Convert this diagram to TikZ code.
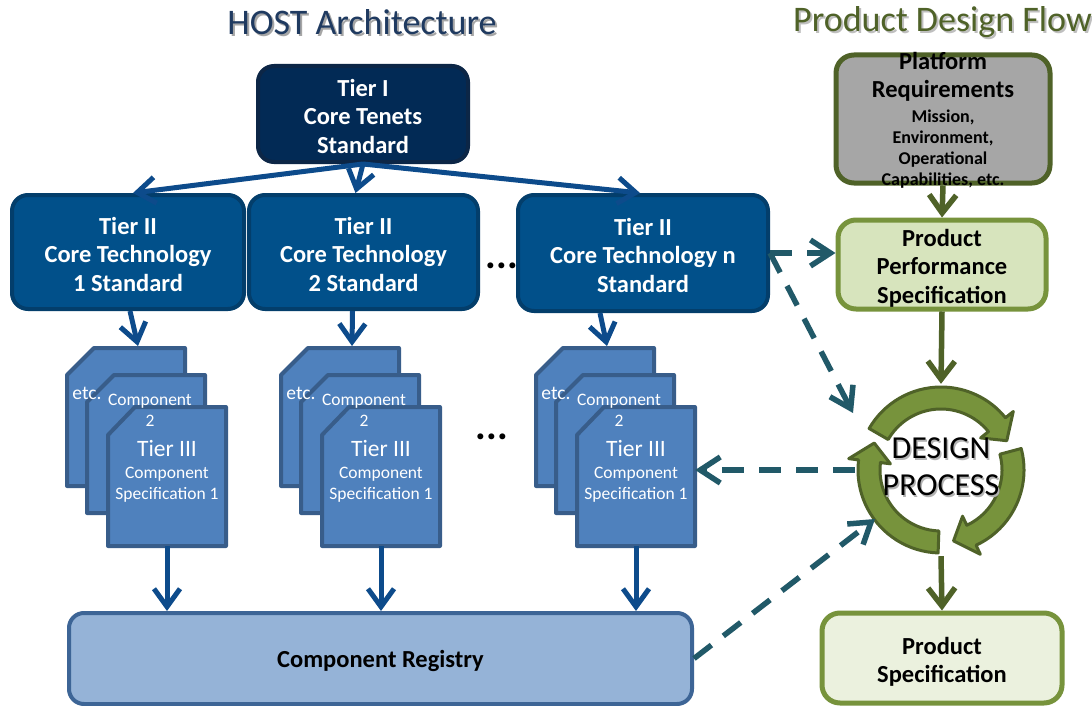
\documentclass[tikz,border=0pt]{standalone}
\usepackage{fontspec}
\setmainfont{Carlito}
\usetikzlibrary{arrows.meta,calc}
\definecolor{tonefill}{HTML}{022A55}
\definecolor{toneline}{HTML}{0C2646}
\definecolor{ttwofill}{HTML}{01508A}
\definecolor{ttwoline}{HTML}{033E6B}
\definecolor{sheetfill}{HTML}{4F81BD}
\definecolor{sheetline}{HTML}{385D8A}
\definecolor{regfill}{HTML}{95B3D7}
\definecolor{regline}{HTML}{3D6596}
\definecolor{bluearr}{HTML}{0D4B8B}
\definecolor{tealarr}{HTML}{215968}
\definecolor{gdark}{HTML}{4F6228}
\definecolor{gmid}{HTML}{77933C}
\definecolor{ppsfill}{HTML}{D7E4BD}
\definecolor{psfill}{HTML}{EBF1DE}
\definecolor{prfill}{HTML}{A6A6A6}
\definecolor{titleblue}{HTML}{1F3A60}
\newcommand\cycarrow[2]{%
  \filldraw[cycstyle] (#1:83pt) arc[start angle=#1, end angle=#2+15, radius=83pt]
    -- (#2+15:93pt) -- (#2:72pt) -- (#2+15:51pt) -- (#2+15:61pt)
    arc[start angle=#2+15, end angle=#1, radius=61pt] -- cycle;}
\begin{document}
\begin{tikzpicture}[x=1pt,y=-1pt,
  every node/.style={inner sep=0pt},
  boxtxt/.style={align=center, font=\fontsize{24.5}{28.5}\selectfont\bfseries},
  tbox/.style={boxtxt, draw, line width=4pt, rounded corners=16pt, text=white},
  tierone/.style={tbox, fill=tonefill, draw=toneline, minimum width=210pt, minimum height=96pt},
  tiertwo/.style={tbox, fill=ttwofill, draw=ttwoline, minimum height=114pt},
  gbox/.style={line width=5pt, rounded corners=18pt},
  gtxt/.style={boxtxt, text=black},
  sheet/.style={fill=sheetfill, draw=sheetline, line width=4pt, line join=round},
  sheettxt/.style={text=white, align=center, font=\fontsize{17.5}{21}\selectfont},
  bigsheettxt/.style={text=white, font=\fontsize{23.5}{26}\selectfont},
  blarrow/.style={draw=bluearr, line width=5pt, -{Straight Barb[length=18pt,width=26pt]}},
  grarrow/.style={draw=gdark, line width=5.5pt, -{Straight Barb[length=18pt,width=27pt]}},
  dasharrow/.style={draw=tealarr, line width=5.5pt, dash pattern=on 22pt off 15pt, -{Straight Barb[length=20pt,width=26pt]}},
  cycstyle/.style={fill=gmid, draw=gdark, line width=3pt, line join=round},
  titletxt/.style={font=\fontsize{36}{42}\selectfont},
  dotstxt/.style={font=\fontsize{40}{40}\selectfont\bfseries}
]
\useasboundingbox[fill=white] (0,0) rectangle (1092,706);

% titles
\node[titletxt, text=black!35] (hosts) at (364,24) {HOST Architecture};
\node[titletxt, text=titleblue] (host) at (362,22) {HOST Architecture};
\node[titletxt, text=black!25, anchor=west] (pdfs) at (795,24) {Product Design Flow};
\node[titletxt, text=gdark, anchor=west] (pdf) at (793,22) {Product Design Flow};

% tier boxes
\node[tierone] (t1) at (363,114) {};
\node[boxtxt, text=white] (t1t) at (363,116) {Tier I\\Core Tenets\\Standard};
\node[tiertwo, minimum width=232pt] (tt1) at (128,252) {};
\node[boxtxt, text=white] (tt1t) at (128,254) {Tier II\\Core Technology\\1 Standard};
\node[tiertwo, minimum width=229pt] (tt2) at (363.5,252) {};
\node[boxtxt, text=white] (tt2t) at (363.5,254) {Tier II\\Core Technology\\2 Standard};
\node[tiertwo, minimum width=250pt, minimum height=116pt] (tt3) at (643,253) {};
\node[boxtxt, text=white] (tt3t) at (643,255) {Tier II\\Core Technology n\\Standard};
\node[dotstxt] (dotsa) at (502,266) {...};

\draw[blarrow] (t1.south) -- ([xshift=5pt]tt1.north);
\draw[blarrow] (t1.south) -- ([xshift=-8pt]tt2.north);
\draw[blarrow] (t1.south) -- ([xshift=-3pt]tt3.north);

% component sheet stacks
\foreach \dx/\i in {0/1,214/2,469/3}{
  \draw[sheet] (\dx+67,375) -- (\dx+94,348) -- (\dx+185,348) -- (\dx+185,486) -- (\dx+67,486) -- cycle;
  \draw[sheet] (\dx+87,402) -- (\dx+114,375) -- (\dx+205,375) -- (\dx+205,513) -- (\dx+87,513) -- cycle;
  \draw[sheet] (\dx+108,435) -- (\dx+135,407) -- (\dx+226,407) -- (\dx+226,546) -- (\dx+108,546) -- cycle;
  \node[minimum width=118pt, minimum height=139pt] (front\i) at (\dx+167,476.5) {};
  \node[text=white, font=\fontsize{19.5}{21}\selectfont] (etc\i) at (\dx+87,393) {etc.};
  \node[sheettxt] (cmp\i) at (\dx+150,410) {Component\\2};
  \node[bigsheettxt] (tier\i) at (\dx+167,448) {Tier III};
  \node[sheettxt] (spec\i) at (\dx+167,485) {Component\\Specification 1};
  \coordinate (bt\i) at (\dx+138,346);
}
\node[dotstxt] (dotsb) at (492,437) {...};

\draw[blarrow] ([xshift=2pt]tt1.south) -- (bt1);
\draw[blarrow] ([xshift=-11pt]tt2.south) -- (bt2);
\draw[blarrow] ([xshift=-43pt]tt3.south) -- (bt3);

% registry
\node[draw=regline, fill=regfill, line width=4pt, rounded corners=15pt,
      minimum width=623pt, minimum height=91pt] (reg) at (380.5,658.5) {};
\node[gtxt] (regt) at (380.5,661) {Component Registry};
\foreach \i in {1,2,3}{
  \draw[blarrow] (front\i.south) -- (front\i.south |- reg.north);
}

% product design flow
\node[gbox, draw=gdark, fill=prfill, minimum width=214pt, minimum height=128pt] (pr) at (943,119) {};
\node[gtxt] (prta) at (943,77) {Platform\\Requirements};
\node[align=center, font=\fontsize{18}{21}\selectfont\bfseries] (prtb) at (943,149) {Mission,\\Environment,\\Operational\\Capabilities, etc.};

\node[gbox, draw=gmid, fill=ppsfill, minimum width=208pt, minimum height=89pt] (pps) at (942,264.5) {};
\node[gtxt] (ppst) at (942,268) {Product\\Performance\\Specification};
\node[gbox, draw=gmid, fill=psfill, minimum width=240pt, minimum height=90pt] (ps) at (942,658) {};
\node[gtxt] (pst) at (942,662) {Product\\Specification};

\node[circle, minimum size=172pt] (dp) at (941,470) {};
\begin{scope}[shift={(dp.center)}]
  \cycarrow{150}{24}
  \cycarrow{15}{-80}
  \cycarrow{-92}{-202}
\end{scope}
\node[align=center, font=\fontsize{32}{37}\selectfont, text=black!30] (dpts) at (942.5,468.5) {DESIGN\\PROCESS};
\node[align=center, font=\fontsize{32}{37}\selectfont] (dpt) at (941,467) {DESIGN\\PROCESS};

\draw[grarrow] (pr.south) -- (pps.north);
\draw[grarrow] (pps.south) -- (dp.north);
\draw[grarrow] (dp.south) -- (ps.north);

% dashed relations
\coordinate (dpnw) at ($(dp.center)+(-88,-57)$);
\coordinate (dpsw) at ($(dp.center)+(-66,49)$);
\draw[dasharrow] (tt3.east) -- (tt3.east -| pps.west);
\draw[dasharrow] (tt3.east) -- (dpnw);
\draw[dasharrow] (dp.west) -- (dp.west -| front3.east);
\draw[dasharrow] (reg.east) -- (dpsw);
\end{tikzpicture}
\end{document}
